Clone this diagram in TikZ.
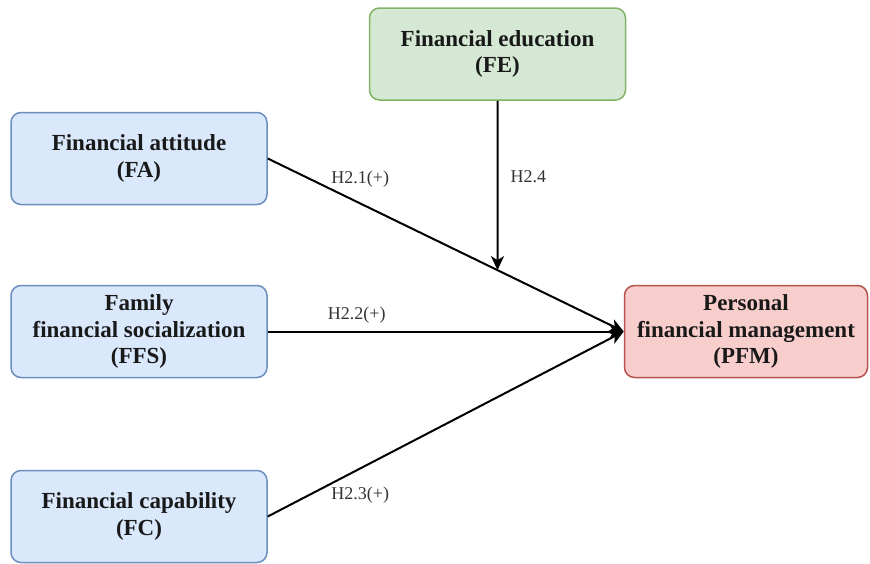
\documentclass[tikz,border=0pt]{standalone}
\usepackage{fontspec}
\setmainfont{Liberation Serif}
\newfontfamily\timesf{Liberation Serif}
\usetikzlibrary{arrows.meta}
\definecolor{blueE}{HTML}{6C8EBF}
\definecolor{blueF}{HTML}{DAE8FC}
\definecolor{greenE}{HTML}{82B366}
\definecolor{greenF}{HTML}{D5E8D4}
\definecolor{redE}{HTML}{B85450}
\definecolor{redF}{HTML}{F8CECC}

\begin{document}
\begin{tikzpicture}[x=1pt,y=-1pt]
			\tikzstyle{boxs} = [draw=blueE, fill=blueF, line width=1.5pt, rounded corners=10pt,
				minimum width=256pt, minimum height=92pt, align=center, text=black!90,
				font=\timesf\fontsize{23}{26.5}\selectfont\bfseries]
			\tikzstyle{boxsG} = [boxs, draw=greenE, fill=greenF]
			\tikzstyle{boxsR} = [boxs, draw=redE, fill=redF, minimum width=243pt]
			\tikzstyle{line} = [draw,-{Stealth[length=14pt,width=13pt,inset=4pt]},line width=2pt]
			\tikzstyle{hyp} = [inner sep=0pt, text=black!80, font=\timesf\fontsize{18}{20}\selectfont]

			\useasboundingbox (0,0) rectangle (870,563);

			\node(FFS)[boxs] at (139,331.5){Family\\financial socialization\\(FFS)};
			\tikzset{node distance = 173pt}
			\node(FA)[boxs,above of = FFS]{Financial attitude\\(FA)};
			\tikzset{node distance = 185pt}
			\node(FC)[boxs,below of = FFS]{Financial capability\\(FC)};
			\tikzset{node distance = 607pt}
			\node(PFM)[boxsR,right of = FFS]{Personal\\financial management\\(PFM)};
			\node(FE)[boxsG] at (497.5,54){Financial education\\(FE)};

			% FE points at the FA line
			\coordinate(FEdown) at ([yshift=-300pt]FE.south);
			\coordinate(meet) at (intersection of FA.east--PFM.west and FE.south--FEdown);

			\draw[line] (FA.east) -- node[hyp,pos=0.26,above=15pt]{H2.1(+)} (PFM.west);
			\draw[line] (FFS.east) -- node[hyp,pos=0.25,above=7pt]{H2.2(+)} (PFM.west);
			\draw[line] (FC.east) -- node[hyp,pos=0.26,below=18pt]{H2.3(+)} (PFM.west);
			\draw[line] (FE.south) -- node[hyp,pos=0.45,right=12pt]{H2.4} (meet);

		\end{tikzpicture}
\end{document}
